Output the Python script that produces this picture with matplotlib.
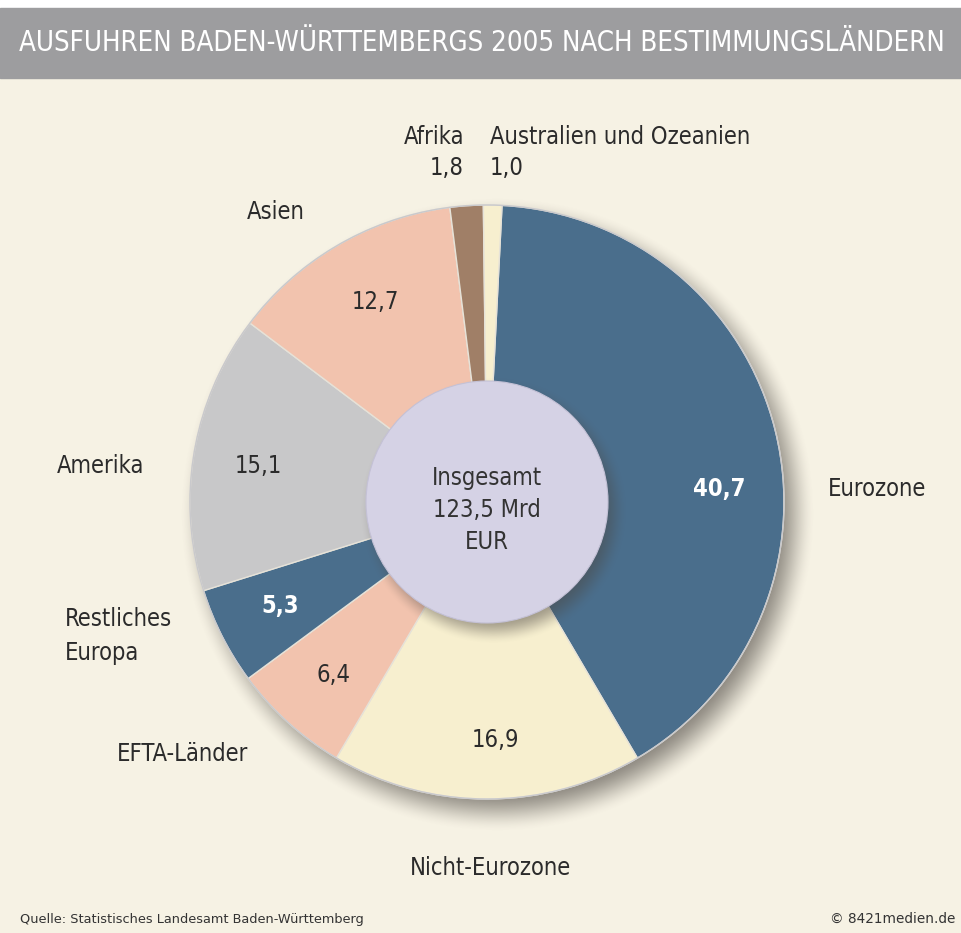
import numpy as np
import matplotlib
matplotlib.use("Agg")
import matplotlib.pyplot as plt
from matplotlib.patches import Rectangle, Circle

# ---- data ----
categories = ["Eurozone", "Nicht-Eurozone", "EFTA-Länder", "Restliches Europa",
              "Amerika", "Asien", "Afrika", "Australien und Ozeanien"]
values = [40.7, 16.9, 6.4, 5.3, 15.1, 12.7, 1.8, 1.0]
value_labels = ["40,7", "16,9", "6,4", "5,3", "15,1", "12,7", "1,8", "1,0"]
colors = ["#4a6e8c", "#f7efcf", "#f2c3ae", "#4a6e8c", "#c8c8c9", "#f2c3ae", "#a07f67", "#f7efcf"]
title = "AUSFUHREN BADEN-WÜRTTEMBERGS 2005 NACH BESTIMMUNGSLÄNDERN"
center_text = "Insgesamt\n123,5 Mrd\nEUR"
source = "Quelle: Statistisches Landesamt Baden-Württemberg"
credit = "© 8421medien.de"

W, H = 961, 933
FONT = ["DejaVu Sans"]
BG = "#f6f2e4"
ST = "condensed"

fig = plt.figure(figsize=(W / 100, H / 100), dpi=100)
fig.patch.set_facecolor(BG)
ax = fig.add_axes([0, 0, 1, 1])
ax.set_xlim(0, W)
ax.set_ylim(0, H)
ax.axis("off")

def Y(yp):
    return H - yp

ax.add_patch(Rectangle((0, Y(933)), W, 933, color=BG, zorder=0))
ax.add_patch(Rectangle((0, Y(8)), W, 8, color="white", zorder=0.5))
ax.add_patch(Rectangle((0, Y(78)), W, 70, color="#9d9d9f", zorder=0.6))
ax.text(W / 2 + 1, Y(43), title, color="white", fontsize=19.8, ha="center", va="center",
        family=FONT, fontstretch=ST, zorder=5)

cx, cy, R = 487, 502, 297
r_in = 121

yy, xx = np.mgrid[0:H, 0:W]
def shadow(ox, oy, rad, blur, strength):
    d = np.hypot(xx - (cx + ox), yy - (cy + oy))
    a = np.clip((rad + blur / 2 - d) / blur, 0, 1)
    a = a * a * (3 - 2 * a) * strength
    img = np.zeros((H, W, 4))
    img[..., 3] = a
    img[..., 0] = 0.30
    img[..., 1] = 0.28
    img[..., 2] = 0.26
    return img

ax.imshow(shadow(10, 12, R, 42, 0.62), extent=(0, W, 0, H), origin="upper",
          aspect="auto", zorder=1, interpolation="bilinear")

start = 87.1
wedges, _ = ax.pie(values, colors=colors, startangle=start, counterclock=False,
                   center=(cx, Y(cy)), radius=R, frame=True,
                   wedgeprops=dict(edgecolor="#e6e2d8", linewidth=1.0))
for w in wedges:
    w.set_zorder(2)
ax.set_xlim(0, W)
ax.set_ylim(0, H)
ax.axis("off")
ax.add_patch(Circle((cx, Y(cy)), R, fill=False, edgecolor="#c9c9cc", linewidth=1.0, zorder=2.5))

ax.imshow(shadow(6, 8, r_in, 26, 0.5), extent=(0, W, 0, H), origin="upper",
          aspect="auto", zorder=3, interpolation="bilinear")
ax.add_patch(Circle((cx, Y(cy)), r_in, facecolor="#d5d2e5", edgecolor="#c4c1d6",
                    linewidth=0.8, zorder=4))
ax.text(cx, Y(510), center_text, ha="center", va="center", fontsize=17,
        family=FONT, fontstretch=ST, color="#333333", linespacing=1.43, zorder=5)

TC = "#2b2b2b"
fs = 17
def t(x, y, s, ha="center", color=TC, weight="normal", **kw):
    ax.text(x, Y(y), s, ha=ha, va="center", fontsize=fs, family=FONT, fontstretch=ST,
            color=color, weight=weight, zorder=5, **kw)

t(719, 489, value_labels[0], color="white", weight="bold")
t(495, 740, value_labels[1])
t(334, 675, value_labels[2])
t(280, 606, value_labels[3], color="white", weight="bold")
t(258, 466, value_labels[4])
t(375, 302, value_labels[5])
t(464, 168, value_labels[6], ha="right")
t(490, 168, value_labels[7], ha="left")

t(828, 489, categories[0], ha="left")
t(490, 868, categories[1])
t(183, 754, categories[2])
t(65, 636, "Restliches\nEuropa", ha="left", linespacing=1.55)
t(101, 466, categories[4])
t(276, 212, categories[5])
t(464, 137, categories[6], ha="right")
t(490, 137, categories[7], ha="left")

ax.text(20, Y(919), source, ha="left", va="center", fontsize=9.3, family=FONT,
        color="#333333")
ax.text(955, Y(919), credit, ha="right", va="center", fontsize=9.8, family=FONT,
        color="#333333")

fig.savefig("out.png", dpi=100, facecolor=BG)
